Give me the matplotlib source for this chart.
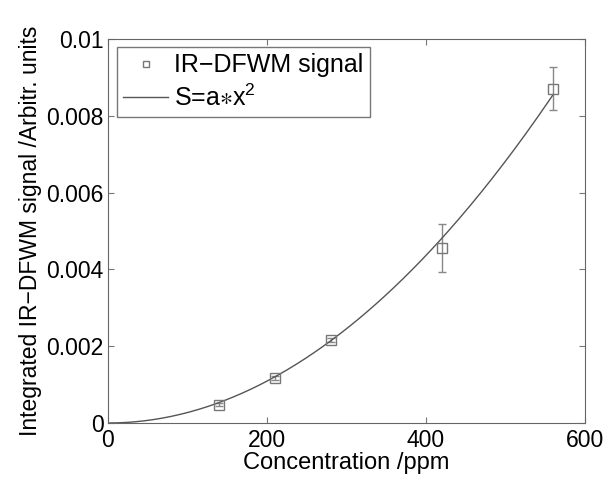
import numpy as np
import matplotlib
matplotlib.use("Agg")
import matplotlib.pyplot as plt
from matplotlib.lines import Line2D

plt.rcParams['font.family'] = ['Liberation Sans', 'DejaVu Sans']
plt.rcParams['mathtext.fontset'] = 'custom'
plt.rcParams['mathtext.rm'] = 'Liberation Sans'
plt.rcParams['mathtext.it'] = 'Liberation Sans'
plt.rcParams['mathtext.default'] = 'regular'

# donnees
conc = np.array([140, 210, 280, 420, 560])
signal = np.array([0.00047, 0.00117, 0.00216, 0.00456, 0.0087])
err = np.array([0.00004, 0.00005, 0.00006, 0.00062, 0.00056])

# ajustement S = a*x^2 (moindres carres)
a = np.sum(conc**2 * signal) / np.sum(conc**4)
xfit = np.linspace(0, 560, 200)
yfit = a * xfit**2

fig = plt.figure(figsize=(6.05, 4.8), dpi=100)
ax = fig.add_axes([108/605, 57/480, 477/605, 384/480])

ax.errorbar(conc, signal, yerr=err, fmt='s', mfc='none', mec='#777777',
            ms=7, mew=1, ecolor='#888888', elinewidth=1, capsize=3)
ax.plot(xfit, yfit, color='#555555', lw=1)

ax.set_xlim(0, 600)
ax.set_ylim(0, 0.01)
ax.set_xticks([0, 200, 400, 600])
ax.set_yticks([0, 0.002, 0.004, 0.006, 0.008, 0.01])
ax.set_yticklabels(['0', '0.002', '0.004', '0.006', '0.008', '0.01'])
ax.tick_params(direction='in', top=True, right=True, labelsize=16.5,
               color='#777777', length=4)
ax.tick_params(axis='x', pad=4)
ax.tick_params(axis='y', pad=3)
for s in ax.spines.values():
    s.set_color('#666666')

ax.set_xlabel('Concentration /ppm', fontsize=17, labelpad=0)
ax.set_ylabel('Integrated IR\u2212DFWM signal /Arbitr. units', fontsize=16.5, labelpad=3)

# legende : marqueur seul puis ligne
handles = [Line2D([], [], ls='none', marker='s', ms=5, mfc='none', mec='#777777', mew=1),
           Line2D([], [], color='#555555', lw=1)]
labels = ['IR\u2212DFWM signal', r'S=a$\ast$x$^2$']
leg = ax.legend(handles, labels, loc='upper left', fontsize=18, fancybox=False,
                bbox_to_anchor=(117/605, 1 - 47/480), bbox_transform=fig.transFigure,
                borderaxespad=0, handlelength=1.8, borderpad=0.25,
                labelspacing=0.3, handletextpad=0.25)
leg.get_frame().set_edgecolor('#555555')
leg.get_frame().set_linewidth(1)

fig.savefig('out.png', dpi=100)
